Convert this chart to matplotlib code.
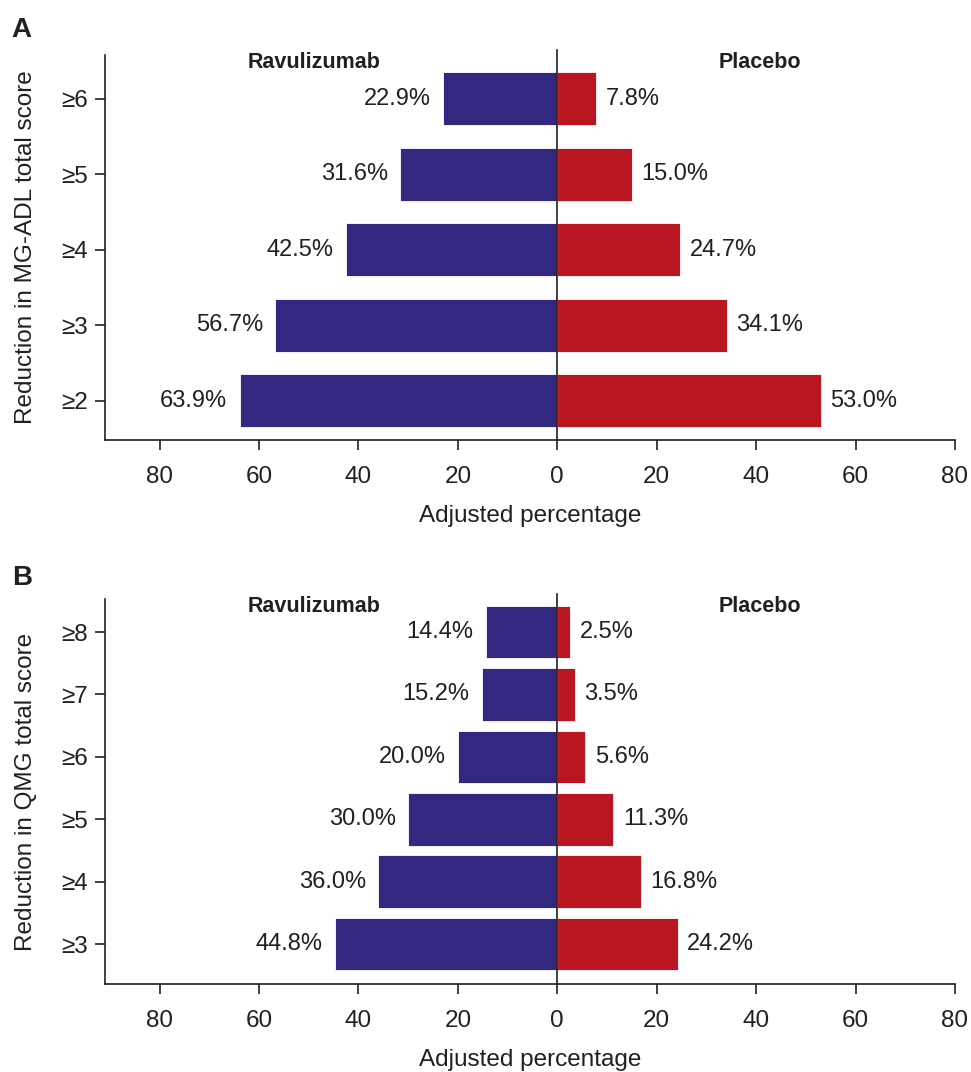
import matplotlib
matplotlib.use("Agg")
import matplotlib.pyplot as plt

plt.rcParams["font.family"] = ["Liberation Sans", "DejaVu Sans"]

# --- Donnees ---
categories_a = ["≥2", "≥3", "≥4", "≥5", "≥6"]
ravu_a = [63.9, 56.7, 42.5, 31.6, 22.9]
placebo_a = [53.0, 34.1, 24.7, 15.0, 7.8]

categories_b = ["≥3", "≥4", "≥5", "≥6", "≥7", "≥8"]
ravu_b = [44.8, 36.0, 30.0, 20.0, 15.2, 14.4]
placebo_b = [24.2, 16.8, 11.3, 5.6, 3.5, 2.5]

xticks = [-80, -60, -40, -20, 0, 20, 40, 60, 80]

BLEU = "#32287f"
ROUGE = "#ba1622"
TXT = "#231f20"


def panneau(ax, categories, ravu, placebo, hauteur, ylim, y_titre, ylabel):
    y = list(range(len(categories)))
    ax.barh(y, [-v for v in ravu], height=hauteur, color=BLEU,
            edgecolor="white", linewidth=0.6)
    ax.barh(y, placebo, height=hauteur, color=ROUGE,
            edgecolor="white", linewidth=0.6)
    for yi, v in zip(y, ravu):
        ax.annotate(f"{v:.1f}%", (-v, yi), xytext=(-9, 0), textcoords="offset points",
                    ha="right", va="center", fontsize=17, color=TXT)
    for yi, v in zip(y, placebo):
        ax.annotate(f"{v:.1f}%", (v, yi), xytext=(7, 0), textcoords="offset points",
                    ha="left", va="center", fontsize=17, color=TXT)
    ax.axvline(0, ymin=0, ymax=1.012, color="#231f20", linewidth=1.2, clip_on=False)
    ax.text(-48.9, y_titre, "Ravulizumab", ha="center", va="center",
            fontsize=15.5, fontweight="bold", color=TXT)
    ax.text(40.8, y_titre, "Placebo", ha="center", va="center",
            fontsize=15.5, fontweight="bold", color=TXT)

    ax.set_xlim(-91, 80)
    ax.set_ylim(*ylim)
    ax.set_xticks(xticks)
    ax.set_xticklabels([str(abs(t)) for t in xticks])
    ax.set_yticks(y)
    ax.set_yticklabels(categories)
    ax.spines["top"].set_visible(False)
    ax.spines["right"].set_visible(False)
    for s in ["left", "bottom"]:
        ax.spines[s].set_linewidth(1.2)
        ax.spines[s].set_color("#231f20")
    ax.tick_params(axis="both", labelsize=17.5, width=1.2, length=7,
                   colors="#231f20")
    ax.tick_params(axis="x", pad=12)
    ax.tick_params(axis="y", pad=5)
    ax.set_xlabel("Adjusted percentage", fontsize=17.5, color=TXT, labelpad=12)
    ax.set_ylabel(ylabel, fontsize=17.5, color=TXT, labelpad=18)


fig = plt.figure(figsize=(9.71, 10.72), dpi=100)
ax_a = fig.add_axes([0.1081, 0.5896, 0.8754, 0.3591])
ax_b = fig.add_axes([0.1081, 0.0821, 0.8754, 0.3591])

panneau(ax_a, categories_a, ravu_a, placebo_a, 0.70, (-0.52, 4.58), 4.48,
        "Reduction in MG-ADL total score")
panneau(ax_b, categories_b, ravu_b, placebo_b, 0.845, (-0.64, 5.53), 5.41,
        "Reduction in QMG total score")

fig.text(0.012, 0.972, "A", fontsize=20, fontweight="bold", color=TXT, va="center")
fig.text(0.012, 0.461, "B", fontsize=20, fontweight="bold", color=TXT, va="center")

fig.savefig("out.png", dpi=100)
